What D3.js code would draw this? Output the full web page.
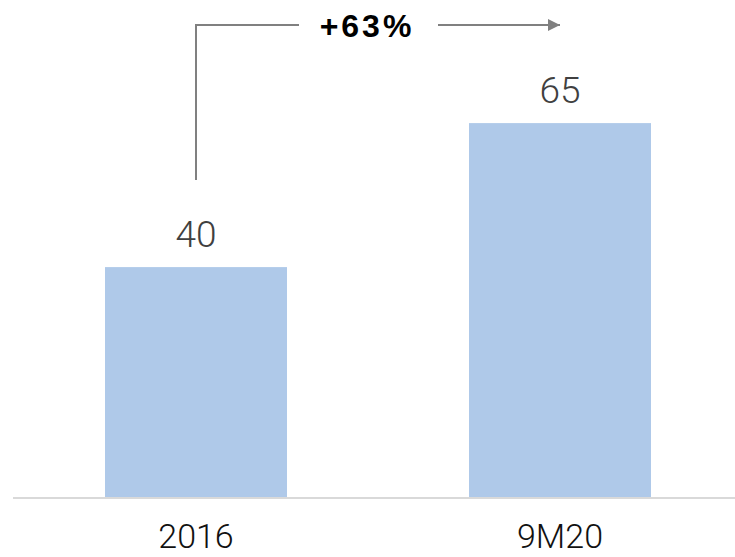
<!DOCTYPE html>
<html>
<head>
<meta charset="utf-8">
<script src="https://cdn.jsdelivr.net/npm/d3@7"></script>
<style>
  html, body { margin: 0; padding: 0; background: #fff; }
  svg { display: block; }
</style>
</head>
<body>
<svg id="chart" width="735" height="557"></svg>
<script>
const categories = ["2016", "9M20"];
const values = [40, 65];
const growthLabel = "+63%";

const W = 735, H = 557;
const svg = d3.select("#chart");

const x = d3.scaleBand()
  .domain(categories)
  .range([14, 742])
  .paddingInner(0.5)
  .paddingOuter(0.25);

const y = d3.scaleLinear()
  .domain([0, 80])
  .range([497.5, 36.7]);

const lightFont = "Roboto, 'Helvetica Neue', Helvetica, 'Liberation Sans', Arial, sans-serif";
const boldFont = "'Liberation Sans', Helvetica, Arial, sans-serif";

// bars
svg.selectAll("rect.bar")
  .data(values)
  .join("rect")
  .attr("class", "bar")
  .attr("x", (d, i) => x(categories[i]))
  .attr("y", d => y(d))
  .attr("width", x.bandwidth())
  .attr("height", d => y(0) - y(d))
  .attr("fill", "#afc9e9");

// baseline
svg.append("line")
  .attr("x1", x.range()[0] - 1).attr("x2", W)
  .attr("y1", y(0) + 0.5).attr("y2", y(0) + 0.5)
  .attr("stroke", "#d9d9d9").attr("stroke-width", 2);

// value labels
svg.selectAll("text.val")
  .data(values)
  .join("text")
  .attr("class", "val")
  .attr("x", (d, i) => x(categories[i]) + x.bandwidth() / 2)
  .attr("y", d => y(d) - 20)
  .attr("text-anchor", "middle")
  .attr("font-family", lightFont)
  .attr("font-weight", 300)
  .attr("font-size", 37)
  .attr("fill", "#404040")
  .text(d => d);

// category labels
svg.selectAll("text.cat")
  .data(categories)
  .join("text")
  .attr("class", "cat")
  .attr("x", d => x(d) + x.bandwidth() / 2)
  .attr("y", 548)
  .attr("text-anchor", "middle")
  .attr("font-family", lightFont)
  .attr("font-weight", 300)
  .attr("font-size", 34)
  .attr("fill", "#111")
  .text(d => d);

// growth bracket arrow
const cx0 = x(categories[0]) + x.bandwidth() / 2;
const cx1 = x(categories[1]) + x.bandwidth() / 2;
const topY = 25;
const greyArrow = "#808080";

svg.append("defs").append("marker")
  .attr("id", "arrowhead")
  .attr("viewBox", "0 0 10 10")
  .attr("refX", 10).attr("refY", 5)
  .attr("markerWidth", 8).attr("markerHeight", 6)
  .attr("markerUnits", "strokeWidth")
  .attr("orient", "auto")
  .append("path")
  .attr("d", "M0,0 L10,5 L0,10 Z")
  .attr("fill", greyArrow);

svg.append("path")
  .attr("d", `M${cx0},180 L${cx0},${topY} L299,${topY}`)
  .attr("fill", "none")
  .attr("stroke", greyArrow)
  .attr("stroke-width", 2);

svg.append("line")
  .attr("x1", 438).attr("x2", cx1)
  .attr("y1", topY).attr("y2", topY)
  .attr("stroke", greyArrow)
  .attr("stroke-width", 2)
  .attr("marker-end", "url(#arrowhead)");

svg.append("text")
  .attr("x", 367)
  .attr("y", 37)
  .attr("text-anchor", "middle")
  .attr("font-family", boldFont)
  .attr("font-weight", "bold")
  .attr("font-size", 32)
  .attr("letter-spacing", 3)
  .attr("fill", "#000")
  .text(growthLabel);
</script>
</body>
</html>
